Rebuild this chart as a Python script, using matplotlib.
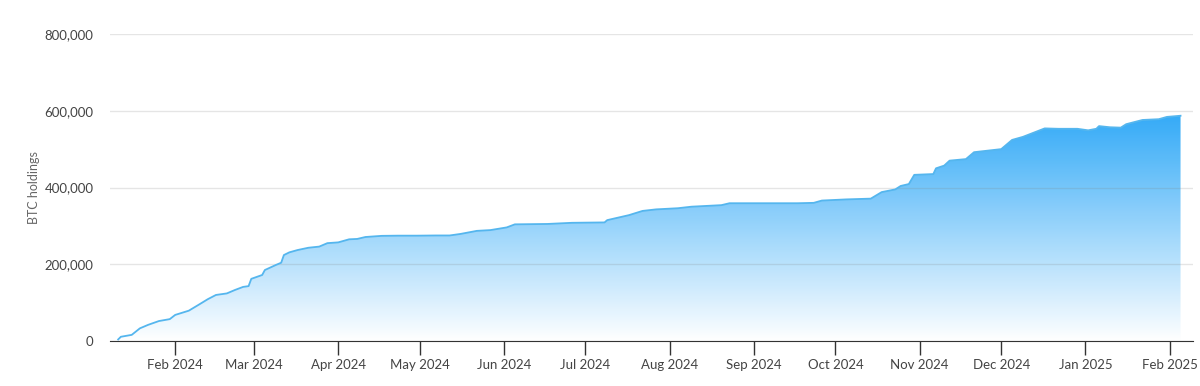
import numpy as np
import matplotlib
matplotlib.use("Agg")
import matplotlib.pyplot as plt
import matplotlib.dates as mdates
from matplotlib.ticker import FuncFormatter

plt.rcParams['font.family'] = ['Lato', 'DejaVu Sans']

dates = np.array([
    '2024-01-11', '2024-01-12', '2024-01-16', '2024-01-19', '2024-01-22', '2024-01-26',
    '2024-01-30', '2024-02-01', '2024-02-06', '2024-02-10', '2024-02-13', '2024-02-16',
    '2024-02-20', '2024-02-23', '2024-02-26', '2024-02-28', '2024-02-29', '2024-03-04',
    '2024-03-05', '2024-03-09', '2024-03-11', '2024-03-12', '2024-03-14', '2024-03-17',
    '2024-03-21', '2024-03-25', '2024-03-28', '2024-04-01', '2024-04-05', '2024-04-08',
    '2024-04-11', '2024-04-17', '2024-04-23', '2024-04-30', '2024-05-07', '2024-05-12',
    '2024-05-16', '2024-05-22', '2024-05-27', '2024-06-02', '2024-06-05', '2024-06-17',
    '2024-06-26', '2024-07-08', '2024-07-09', '2024-07-17', '2024-07-22', '2024-07-27',
    '2024-08-04', '2024-08-09', '2024-08-20', '2024-08-23', '2024-09-17', '2024-09-23',
    '2024-09-26', '2024-10-05', '2024-10-14', '2024-10-18', '2024-10-23', '2024-10-25',
    '2024-10-28', '2024-10-30', '2024-11-06', '2024-11-07', '2024-11-10', '2024-11-12',
    '2024-11-18', '2024-11-21', '2024-11-26', '2024-12-01', '2024-12-05', '2024-12-09',
    '2024-12-13', '2024-12-17', '2024-12-22', '2024-12-29', '2025-01-02', '2025-01-05',
    '2025-01-06', '2025-01-10', '2025-01-14', '2025-01-16', '2025-01-22', '2025-01-28',
    '2025-01-31', '2025-02-05'], dtype='datetime64[D]')

holdings = np.array([
    4000, 11000, 16000, 33000, 42000, 52000,
    57000, 68000, 79000, 96000, 109000, 120000,
    124000, 133000, 141000, 143000, 162000, 172000,
    185000, 198000, 204000, 224000, 231000, 237000,
    243000, 246000, 255000, 257000, 265000, 266000,
    271000, 274000, 274500, 274500, 275000, 275000,
    279000, 287000, 289000, 296000, 304000, 305000,
    308000, 309000, 315000, 328000, 339000, 343000,
    346000, 350000, 354000, 359000, 359000, 360000,
    366000, 369000, 371000, 388000, 395000, 404000,
    409000, 433000, 435000, 450000, 457000, 470000,
    474000, 492000, 496000, 500000, 524000, 532000,
    543000, 554000, 553000, 553000, 549000, 553000,
    560000, 557000, 556000, 565000, 576000, 578000,
    584000, 587000])

y_ticks = [0, 200000, 400000, 600000, 800000]

fig = plt.figure(figsize=(12, 3.86), dpi=100)
ax = fig.add_axes([110 / 1200, 45 / 386, 1083 / 1200, 307 / 386])

x = mdates.date2num(dates.astype('datetime64[s]').astype(object))
xmin = mdates.date2num(np.datetime64('2024-01-08T00:00').astype(object))
xmax = mdates.date2num(np.datetime64('2025-02-09T14:00').astype(object))

# gradient fill clipped to the area under the curve
poly = ax.fill_between(x, holdings, 0, color='none', lw=0)
top = holdings.max()
n = 256
t = np.linspace(0, 1, n)[:, None]
blue = np.array([0.18, 0.66, 0.97])
rgba = np.ones((n, 1, 4))
rgba[..., :3] = 1 - t[..., None] * (1 - blue)
rgba[..., 3] = 0.97
im = ax.imshow(rgba, extent=[x[0], x[-1], 0, top], origin='lower',
               aspect='auto', zorder=1, interpolation='bilinear')
im.set_clip_path(poly.get_paths()[0], transform=ax.transData)
ax.plot(x, holdings, color='#55b6ee', lw=1.3, zorder=3)

ax.set_xlim(xmin, xmax)
ax.set_ylim(0, 800000)
ax.set_yticks(y_ticks)
ax.yaxis.set_major_formatter(FuncFormatter(lambda v, p: f'{int(v):,}'))
ax.grid(axis='y', color='#808080', lw=1, alpha=0.2, zorder=2)
ax.set_axisbelow(False)

ax.xaxis.set_major_locator(mdates.MonthLocator())
ax.xaxis.set_major_formatter(mdates.DateFormatter('%b %Y'))

for s in ['top', 'right', 'left']:
    ax.spines[s].set_visible(False)
ax.spines['bottom'].set_color('#333333')
ax.spines['bottom'].set_zorder(4)

ax.tick_params(axis='y', length=0, pad=12, labelsize=9.5, labelcolor='#444444')
ax.tick_params(axis='x', length=10, width=1, color='#333333', pad=3,
               labelsize=9.5, labelcolor='#444444')
ax.set_ylabel('BTC holdings', fontsize=9, color='#666666', labelpad=3)

fig.savefig('out.png', dpi=100)
